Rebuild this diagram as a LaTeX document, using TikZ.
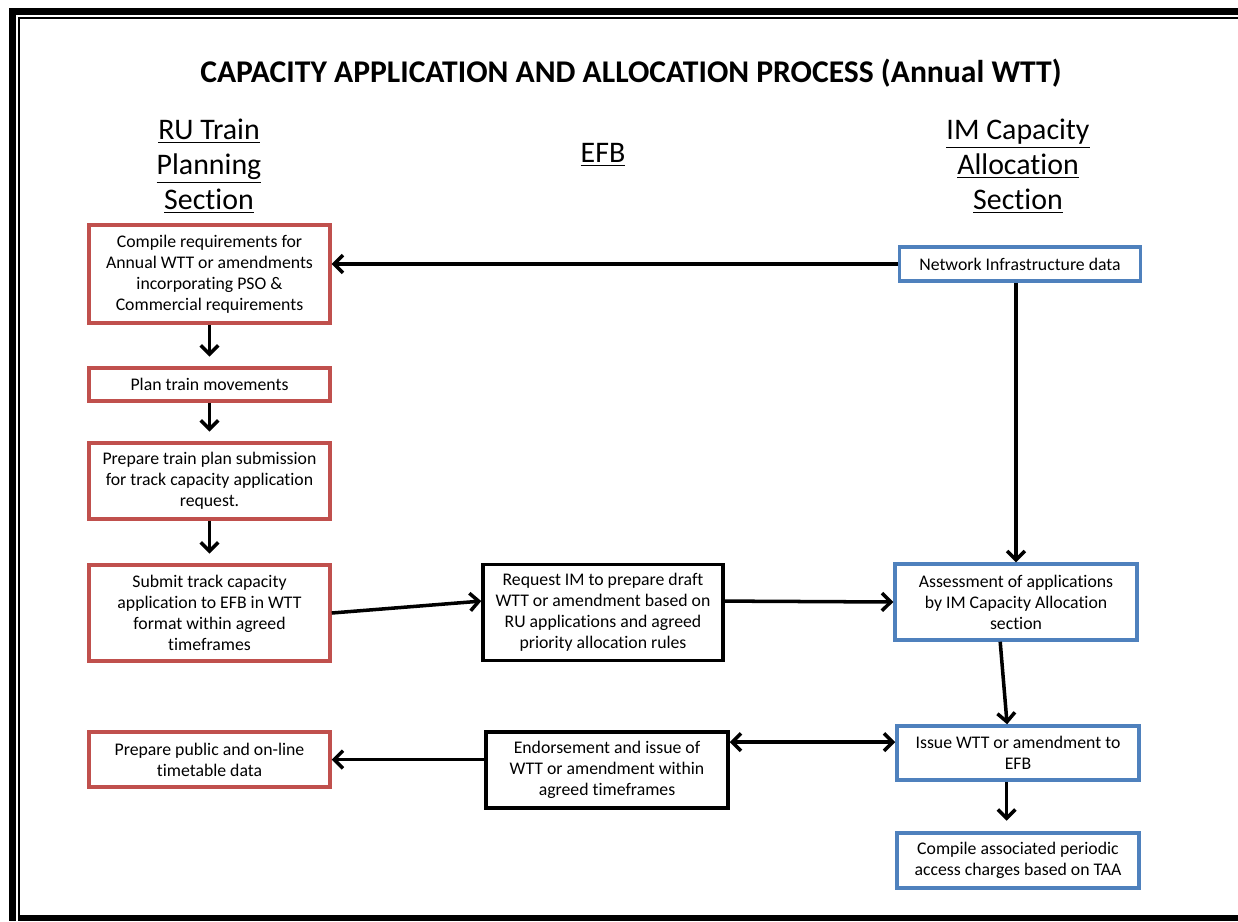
\documentclass[tikz,border=0pt]{standalone}
\usepackage{fontspec}
\setmainfont{Carlito}[Ligatures={NoCommon}]
\usepackage{tikz}
\usetikzlibrary{arrows.meta}
\definecolor{ru-red}{HTML}{C0504D}
\definecolor{im-blue}{HTML}{4F81BD}
\tikzset{
    step-box/.style = {fill=white, line width=2pt, rectangle, minimum width=4.82cm, align=center, inner sep=2pt, font=\fontsize{10.1}{11.9}\selectfont},
    ru-box/.style = {step-box, draw=ru-red},
    im-box/.style = {step-box, draw=im-blue},
    efb-box/.style = {step-box, draw=black},
    column-title/.style = {align=center, font=\fontsize{17}{19.8}\selectfont},
    flow-arrow/.style = {line width=2pt, ->},
}

\begin{document}
\begin{tikzpicture}[x=0.02cm, y=-0.02cm, >={Straight Barb[length=5pt,width=10pt]}]
\useasboundingbox (0,0) rectangle (1238,921);
% page border, thick and thin
\fill (9,8) rectangle (1238,15.3);
\fill (9,8) rectangle (16,921);
\fill (18,17.3) rectangle (1238,19.3);
\fill (18,17.3) rectangle (20,921);
\fill (18,915.3) rectangle (1238,921);

\node [font=\bfseries\fontsize{18}{21}\selectfont] (title) at (631,73) {CAPACITY APPLICATION AND ALLOCATION PROCESS (Annual WTT)};

% column headings
\node [column-title] (ru-title) at (209,166) {\underline{RU Train}\\\underline{Planning}\\\underline{Section}};
\node [column-title] (efb-title) at (603,155) {\underline{EFB}};
\node [column-title] (im-title) at (1018,166) {\underline{IM Capacity}\\\underline{Allocation}\\\underline{Section}};

% RU steps
\node [ru-box, minimum height=1.96cm] (compile) at (209.5,274) {Compile requirements for\\Annual WTT or amendments\\incorporating PSO \&\\Commercial requirements};
\node [ru-box, minimum height=0.66cm] (plan) at (209.5,384.5) {Plan train movements};
\node [ru-box, minimum height=1.52cm] (prepare) at (209.5,481) {Prepare train plan submission\\for track capacity application\\request.};
\node [ru-box, minimum height=1.92cm] (submit) at (209.5,613) {Submit track capacity\\application to EFB in WTT\\format within agreed\\timeframes};
\node [ru-box, minimum height=1.1cm] (public-data) at (209.5,759.5) {Prepare public and on-line\\timetable data};

% EFB steps
\node [efb-box, minimum width=4.8cm, minimum height=1.92cm] (request) at (603,612.5) {Request IM to prepare draft\\WTT or amendment based on\\RU applications and agreed\\priority allocation rules};
\node [efb-box, minimum width=4.84cm, minimum height=1.52cm] (endorse) at (607,770) {Endorsement and issue of\\WTT or amendment within\\agreed timeframes};

% IM steps
\node [im-box, minimum height=0.68cm] (network) at (1020,264) {Network Infrastructure data};
\node [im-box, minimum width=4.84cm, minimum height=1.52cm] (assess) at (1016,602) {Assessment of applications\\by IM Capacity Allocation\\section};
\node [im-box, minimum width=4.84cm, minimum height=1.08cm] (issue) at (1018,753) {Issue WTT or amendment to\\EFB};
\node [im-box, minimum width=4.84cm, minimum height=1.1cm] (charges) at (1018,860.5) {Compile associated periodic\\access charges based on TAA};

% connectors
\draw [flow-arrow] (network.west) -- (network.west -| compile.east);
\draw [flow-arrow, shorten >=5.5pt] (compile.south) -- (plan.north);
\draw [flow-arrow, shorten >=5.5pt] (plan.south) -- (prepare.north);
\draw [flow-arrow, shorten >=5.5pt] (prepare.south) -- (submit.north);
\draw [flow-arrow] (submit.east) -- ([yshift=6.5pt]request.west);
\draw [flow-arrow] ([yshift=6.5pt]request.east) -- (assess.west);
\draw [flow-arrow] (assess.north |- network.south) -- (assess.north);
\draw [flow-arrow] ([xshift=-9pt]assess.south) -- ([xshift=-6.2pt]issue.north);
\draw [flow-arrow, <->] ([yshift=6.2pt]issue.west) -- ([yshift=6.2pt]issue.west -| endorse.east);
\draw [flow-arrow] (endorse.west |- public-data.east) -- (public-data.east);
\draw [flow-arrow, shorten >=6pt] ([xshift=-6.5pt]issue.south) -- ([xshift=-6.5pt]charges.north);
\end{tikzpicture}
\end{document}
